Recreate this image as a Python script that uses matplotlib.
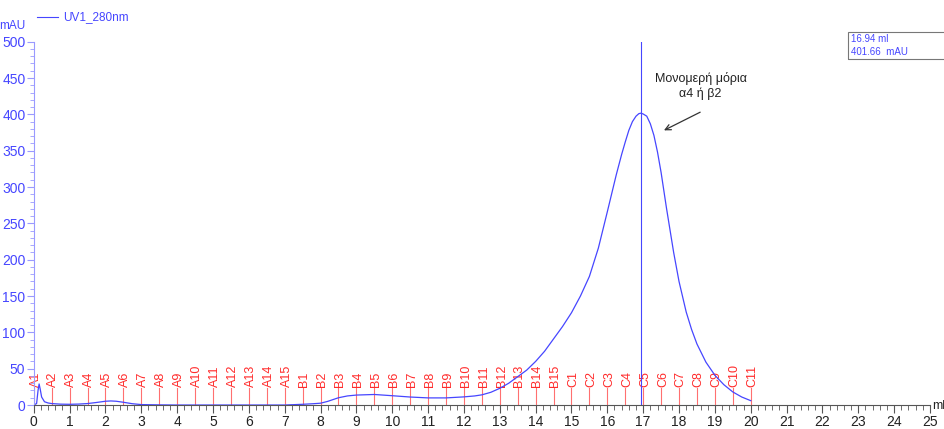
import matplotlib
matplotlib.use("Agg")
import matplotlib.pyplot as plt
from matplotlib.ticker import MultipleLocator

plt.rcParams['font.family'] = ['Liberation Sans', 'DejaVu Sans']

# UV trace (ml, mAU)
volume = [0, 0.08, 0.12, 0.15, 0.18, 0.22, 0.3, 0.4, 0.5, 0.75, 1.0, 1.25, 1.5,
          1.75, 2.0, 2.15, 2.3, 2.5, 2.75, 3.0, 3.5, 4.0, 4.7, 5.0, 6.0, 7.0,
          7.5, 7.8, 8.0, 8.2, 8.5, 8.75, 9.0, 9.5, 10.0, 10.5, 11.0, 11.5, 12.0,
          12.3, 12.5, 12.75, 13.0, 13.25, 13.5, 13.75, 14.0, 14.25, 14.5, 14.75,
          15.0, 15.25, 15.5, 15.75, 16.0, 16.25, 16.4, 16.5, 16.6, 16.7, 16.8,
          16.88, 16.94, 17.0, 17.1, 17.2, 17.3, 17.4, 17.5, 17.65, 17.85, 18.0,
          18.2, 18.35, 18.5, 18.75, 19.0, 19.25, 19.5, 19.75, 20.0]
absorb = [0, 2, 20, 29, 22, 11, 4.5, 2.8, 2, 1.2, 1, 1.3, 2, 3.5, 5.2, 5.6,
          5.2, 3.8, 1.8, 0.6, 0.2, 0, 0, 0, 0, 0,
          1, 1.8, 2.5, 5, 10, 12.5, 13.7, 14.5, 12.8, 11, 9.8, 9.8, 11.2,
          12.5, 14, 17.5, 23, 30, 39, 48, 60, 74, 91, 108,
          127, 150, 177, 216, 266, 317, 345, 362, 378, 390, 397.5,
          401, 401.66, 400.5, 397.5, 387, 371, 348, 320, 271, 210, 170,
          128, 104, 84, 59, 41, 28, 18, 11, 6]

# fraction collector marks
frac_names = ['A1', 'A2', 'A3', 'A4', 'A5', 'A6', 'A7', 'A8', 'A9', 'A10',
              'A11', 'A12', 'A13', 'A14', 'A15',
              'B1', 'B2', 'B3', 'B4', 'B5', 'B6', 'B7', 'B8', 'B9', 'B10',
              'B11', 'B12', 'B13', 'B14', 'B15',
              'C1', 'C2', 'C3', 'C4', 'C5', 'C6', 'C7', 'C8', 'C9', 'C10', 'C11']
frac_pos = [0.0, 0.5, 1.0, 1.5, 2.0, 2.5, 3.0, 3.5, 4.0, 4.5,
            5.0, 5.5, 6.0, 6.5, 7.0,
            7.5, 8.0, 8.5, 9.0, 9.5, 10.0, 10.5, 11.0, 11.5, 12.0,
            12.5, 13.0, 13.5, 14.0, 14.5,
            15.0, 15.5, 16.0, 16.5, 17.0, 17.5, 18.0, 18.5, 19.0, 19.5, 20.0]

peak_ml = 16.94
peak_mau = 401.66

blue = '#4646ff'
red = '#ff2a2a'

fig = plt.figure(figsize=(9.45, 4.29), dpi=100)
ax = fig.add_axes([0.0357, 0.0559, 0.9484, 0.8469])

ax.set_xlim(0, 25)
ax.set_ylim(0, 500)

# fractions
for name, xp in zip(frac_names, frac_pos):
    ax.plot([xp, xp], [0, 24], color='#ff7070', lw=0.8, zorder=1)
    ax.text(xp + 0.05, 25, name, rotation=90, ha='center', va='bottom',
            color=red, fontsize=9, zorder=1)

ax.plot([0, 0], [0, 120], color='#ff66ff', lw=1.2, zorder=1)
ax.plot(volume, absorb, color=blue, lw=0.9, zorder=2)
ax.axvline(peak_ml, color=blue, lw=0.8, zorder=2)

for s in ['top', 'right']:
    ax.spines[s].set_visible(False)
ax.spines['left'].set_color('#9a9aff')
ax.spines['bottom'].set_color('#555555')
ax.spines['bottom'].set_zorder(3)

ax.xaxis.set_major_locator(MultipleLocator(1))
ax.xaxis.set_minor_locator(MultipleLocator(0.2))
ax.yaxis.set_major_locator(MultipleLocator(50))
ax.yaxis.set_minor_locator(MultipleLocator(10))
ax.tick_params(axis='x', which='major', length=6, color='#555555',
               labelsize=10, labelcolor='#222222', pad=1)
ax.tick_params(axis='x', which='minor', length=3.5, color='#555555')
ax.tick_params(axis='y', which='major', length=5, color='#9a9aff',
               labelsize=10, labelcolor=blue, pad=1)
ax.tick_params(axis='y', which='minor', length=3, color='#9a9aff')

ax.text(-0.6, 513, 'mAU', color=blue, fontsize=8.5, ha='center', va='bottom',
        clip_on=False)
ax.text(25.05, -1, 'ml', color='#222222', fontsize=9, ha='left',
        va='center', clip_on=False)

# legend
fig.lines.append(plt.Line2D([37 / 945, 58 / 945], [1 - 17 / 429, 1 - 17 / 429],
                            transform=fig.transFigure, color=blue, lw=0.8))
fig.text(63 / 945, 1 - 17 / 429, 'UV1_280nm', color=blue, fontsize=8.5,
         va='center')

# cursor readout
fig.patches.append(plt.Rectangle((848 / 945, 1 - 59 / 429), 110 / 945,
                                 27 / 429, transform=fig.transFigure,
                                 fill=False, edgecolor='#777777', lw=0.8))
fig.text(851 / 945, 1 - 39 / 429, f'{peak_ml:.2f} ml', color=blue,
         fontsize=7, va='center')
fig.text(851 / 945, 1 - 52 / 429, f'{peak_mau:.2f}  mAU', color=blue,
         fontsize=7, va='center')

ax.text(18.6, 439, 'Μονομερή μόρια\nα4 ή β2', ha='center', va='center',
        fontsize=9, color='#222222', linespacing=1.35)
ax.annotate('', xy=(17.58, 378), xytext=(18.59, 403),
            arrowprops=dict(arrowstyle='->', color='#333333', lw=0.9,
                            shrinkA=0, shrinkB=0))

fig.savefig('out.png', dpi=100)
